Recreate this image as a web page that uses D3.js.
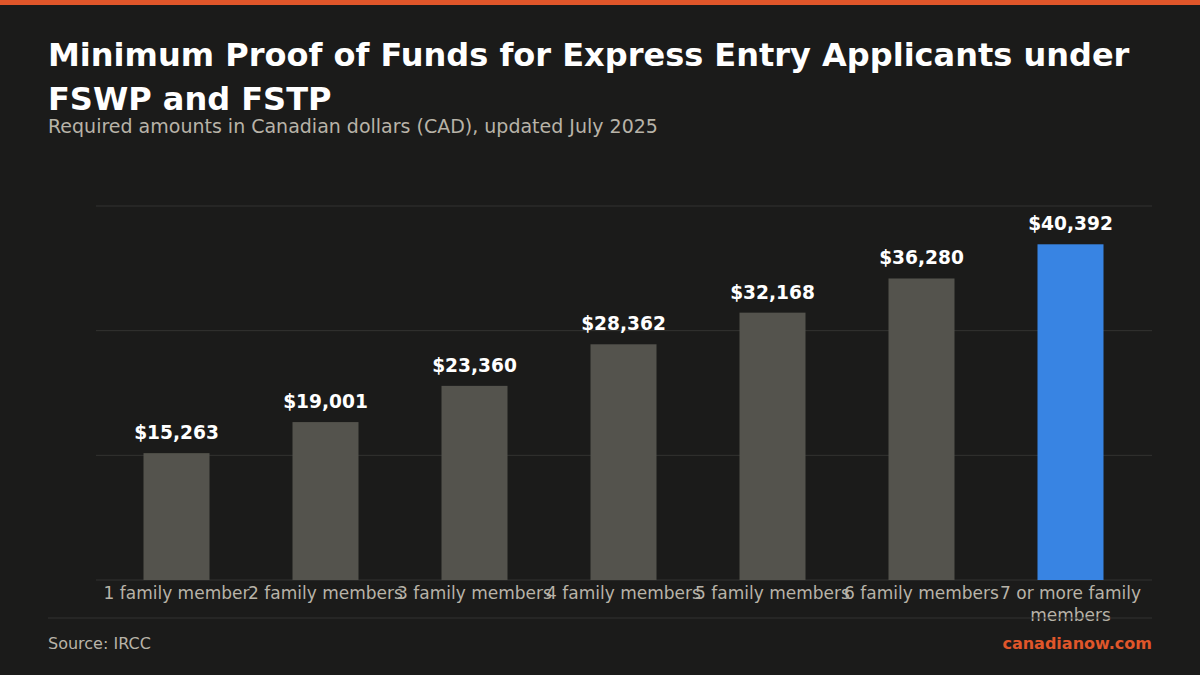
<!DOCTYPE html>
<html><head><meta charset="utf-8">
<script src="https://cdn.jsdelivr.net/npm/d3@7"></script>
<style>body{margin:0;background:#1b1b1a;}svg{display:block;font-family:"DejaVu Sans",sans-serif;}</style>
</head><body>
<svg id="chart" width="1200" height="675"></svg>
<script>
const categories = ["1 family member","2 family members","3 family members","4 family members","5 family members","6 family members","7 or more family members"];
const values = [15263,19001,23360,28362,32168,36280,40392];
const gridTicks = [0,15000,30000,45000];

const svg = d3.select("#chart");
svg.append("rect").attr("width",1200).attr("height",675).attr("fill","#1b1b1a");
svg.append("rect").attr("width",1200).attr("height",5).attr("fill","#e0562a");

svg.append("text").text("Minimum Proof of Funds for Express Entry Applicants under")
  .attr("x",48).attr("y",66).attr("fill","#fff").style("font-size","32px").style("font-weight","bold");
svg.append("text").text("FSWP and FSTP")
  .attr("x",48).attr("y",110).attr("fill","#fff").style("font-size","32px").style("font-weight","bold");
svg.append("text").text("Required amounts in Canadian dollars (CAD), updated July 2025")
  .attr("x",48).attr("y",133).attr("fill","#b8b3a8").style("font-size","19px");

const x = d3.scaleBand().domain(categories).range([102,1145]);
const y = d3.scaleLinear().domain([0,45000]).range([580,206]);

svg.selectAll(".grid").data(gridTicks).enter().append("line")
  .attr("x1",96).attr("x2",1152)
  .attr("y1",d=>y(d)).attr("y2",d=>y(d))
  .attr("stroke","#333331").attr("stroke-width",1);

const bw = x.bandwidth()*0.443;
svg.selectAll(".bar").data(values).enter().append("rect")
  .attr("x",(d,i)=>x(categories[i])+x.bandwidth()/2-bw/2)
  .attr("y",d=>y(d)).attr("width",bw).attr("height",d=>580-y(d))
  .attr("fill",(d,i)=>i===6?"#3884e3":"#54534d");

svg.selectAll(".val").data(values).enter().append("text")
  .text(d=>"$"+d3.format(",")(d))
  .attr("x",(d,i)=>x(categories[i])+x.bandwidth()/2)
  .attr("y",d=>y(d)-14).attr("text-anchor","middle")
  .attr("fill","#fff").style("font-size","18.6px").style("font-weight","bold");

categories.forEach((c,i)=>{
  const cx = x(c)+x.bandwidth()/2;
  const lines = i===6 ? ["7 or more family","members"] : [c];
  lines.forEach((l,k)=>{
    svg.append("text").text(l).attr("x",cx).attr("y",599+k*22)
      .attr("text-anchor","middle").attr("fill","#b8b3a8").style("font-size","17px");
  });
});

svg.append("line").attr("x1",48).attr("x2",1152).attr("y1",618).attr("y2",618).attr("stroke","#333331");
svg.append("text").text("Source: IRCC").attr("x",48).attr("y",649)
  .attr("fill","#b8b3a8").style("font-size","16px");
svg.append("text").text("canadianow.com").attr("x",1152).attr("y",649).attr("text-anchor","end")
  .attr("fill","#e0562a").style("font-size","16px").style("font-weight","bold");
</script>
</body></html>
